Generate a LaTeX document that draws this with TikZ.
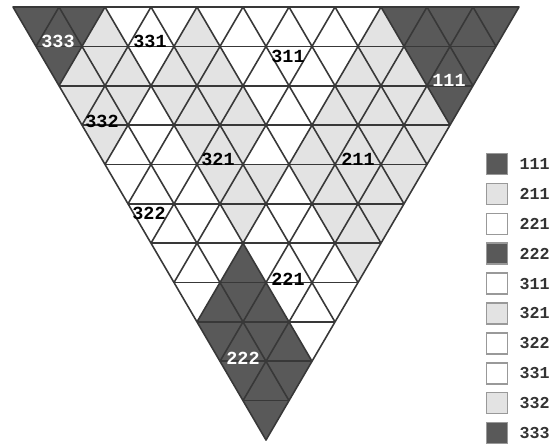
\documentclass[tikz,border=0pt]{standalone}
\usepackage{fontspec}
\setmonofont{Liberation Mono}
\usetikzlibrary{positioning}
\colorlet{shd}{black!65}
\colorlet{shl}{black!11}
\colorlet{shw}{white}
\begin{document}
\begin{tikzpicture}[x=0.02cm,y=-0.02cm,
  grid/.style={draw=black!78,line width=0.9pt,line join=round},
  lab/.style={font=\ttfamily\bfseries\fontsize{10.5}{10.5}\selectfont,inner sep=0pt},
  keybox/.style={draw=black!40,line width=0.8pt,minimum size=0.42cm,inner sep=0pt},
  keytext/.style={font=\ttfamily\bfseries\fontsize{9.5}{9.5}\selectfont,text=black!80,inner sep=0pt}]
\useasboundingbox (0,0) rectangle (553,445);
\foreach \codes [count=\r from 0] in {
  {d,d,d,l,w,w,w,l,w,w,w,w,w,w,w,l,d,d,d,d,d},
  {d,l,l,l,w,l,l,l,w,w,w,w,w,l,l,l,d,d,d},
  {l,l,l,w,l,l,l,l,w,w,w,l,l,l,l,l,d},
  {l,w,w,w,l,l,l,w,w,l,l,l,l,l,l},
  {w,w,w,w,l,l,l,w,l,l,l,l,l},
  {w,w,w,w,l,w,w,w,l,l,l},
  {w,w,w,d,w,w,w,w,l},
  {w,d,d,d,w,w,w},
  {d,d,d,d,w},
  {d,d,d},
  {d}} {
  \pgfmathsetmacro{\yt}{7+39.36*\r}
  \pgfmathsetmacro{\yb}{\yt+39.36}
  \foreach \c [count=\t from 0] in \codes {
    \pgfmathsetmacro{\xl}{13+23*\r+23*\t}
    \ifodd\t\relax
      \fill[fill=sh\c] (\xl,\yb) -- (\xl+46,\yb) -- (\xl+23,\yt) -- cycle;
    \else
      \fill[fill=sh\c] (\xl,\yt) -- (\xl+46,\yt) -- (\xl+23,\yb) -- cycle;
    \fi
  }
}
\foreach \i in {1,...,10}
  \draw[grid] (13+23*\i,7+39.36*\i) -- (519-23*\i,7+39.36*\i);
\foreach \k in {1,...,10} {
  \draw[grid] (13+46*\k,7) -- (266+23*\k,440-39.36*\k);
  \draw[grid] (13+46*\k,7) -- (13+23*\k,7+39.36*\k);
}
\draw[grid] (13,7) -- (519,7) -- (266,440) -- cycle;

\node[lab,text=white] (l333) at (58,41) {333};
\node[lab] (l331) at (150,41) {331};
\node[lab] (l311) at (288,56) {311};
\node[lab,text=white] (l111) at (449,80) {111};
\node[lab] (l332) at (102,121) {332};
\node[lab] (l321) at (218,159) {321};
\node[lab] (l211) at (358,159) {211};
\node[lab] (l322) at (149,213) {322};
\node[lab] (l221) at (288,279) {221};
\node[lab,text=white] (l222) at (243,358) {222};

\foreach \lbl/\c [count=\i from 0] in {111/d,211/l,221/w,222/d,311/w,321/l,322/w,331/w,332/l,333/d} {
  \node[keybox,fill=sh\c] (k\lbl) at (497,164+29.9*\i) {};
  \node[keytext,right=0.22cm of k\lbl] (t\lbl) {\lbl};
}
\end{tikzpicture}
\end{document}
